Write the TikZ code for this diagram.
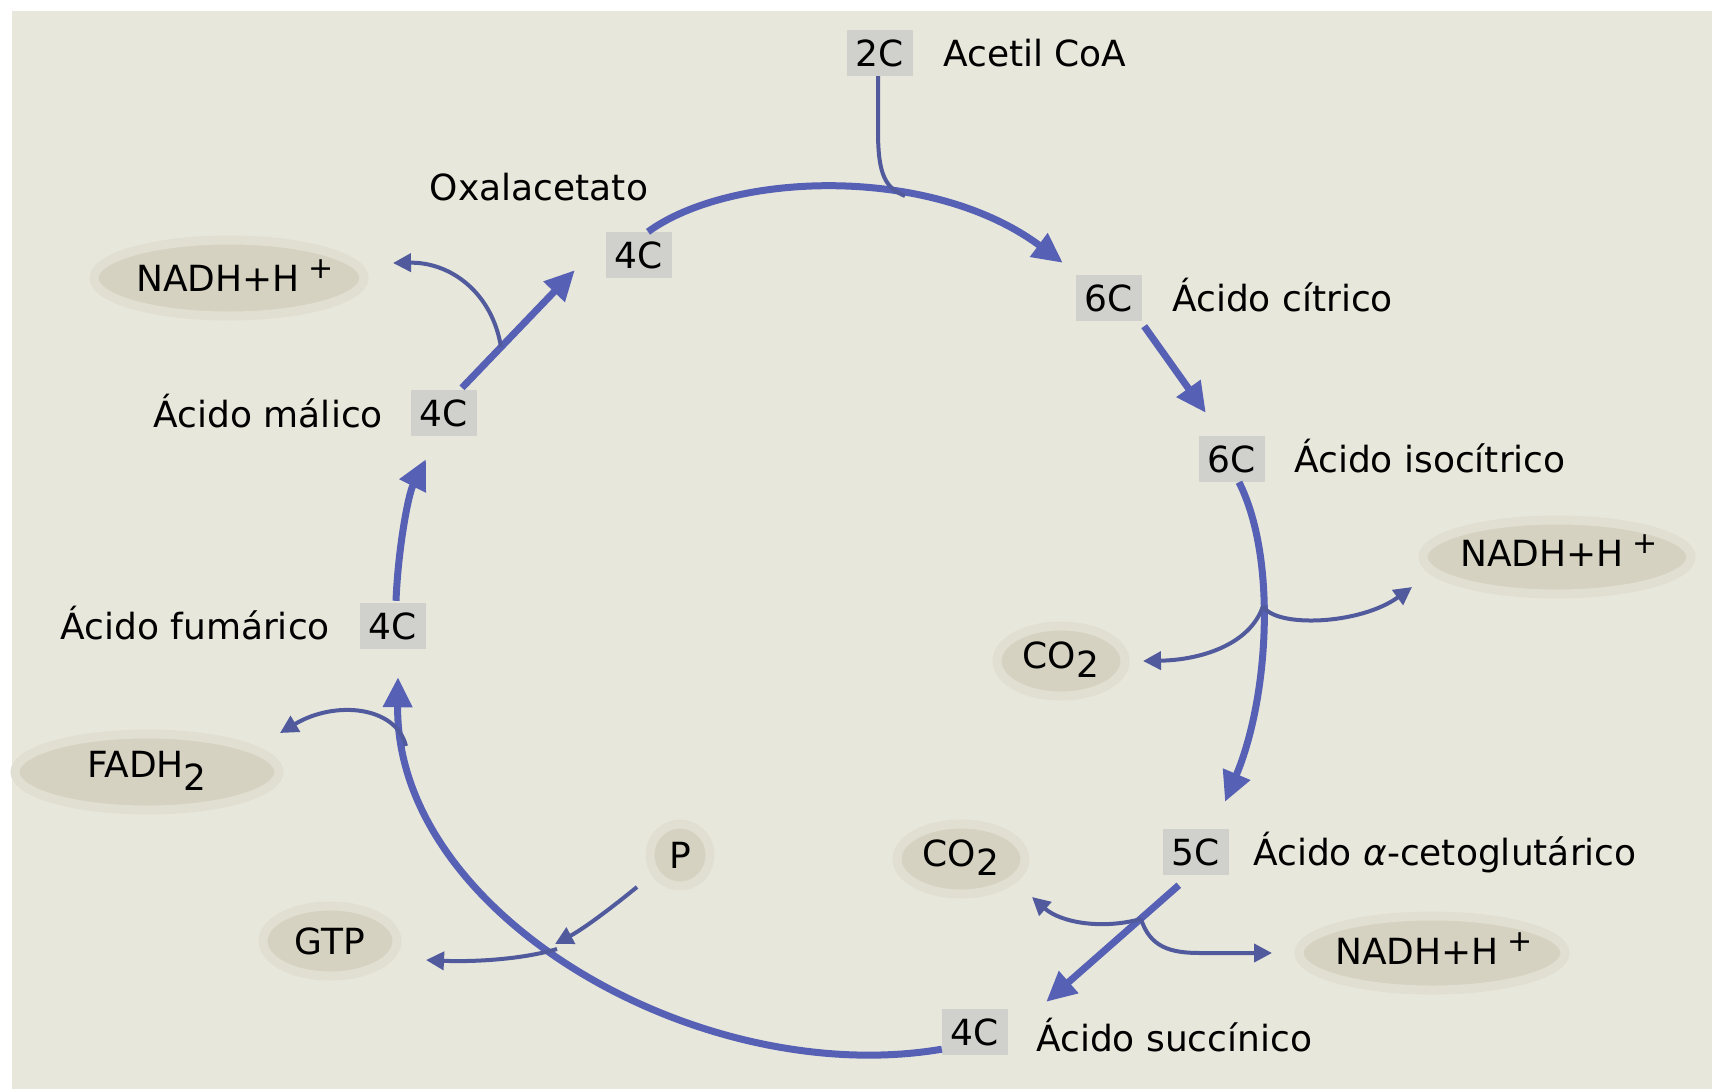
\documentclass[tikz,border=0pt]{standalone}
\usepackage{fontspec}
\setmainfont{DejaVu Sans}
\usetikzlibrary{arrows.meta,shapes.geometric,calc}

\definecolor{bgc}{RGB}{232,231,219}
\definecolor{cyc}{RGB}{86,96,180}
\definecolor{cycthin}{RGB}{80,90,156}
\definecolor{boxc}{RGB}{208,208,205}
\definecolor{ellc}{RGB}{214,210,193}
\newcommand\lblfont{\fontsize{36}{40}\selectfont}
\newcommand\plussup{\hspace{9pt}\raisebox{13pt}{\fontsize{30}{30}\selectfont +}}
\newcommand\subtwo[1]{\raisebox{#1}{2}}

\begin{document}
\begin{tikzpicture}[x=1pt,y=-1pt,
  lbl/.style={font=\lblfont, inner sep=0pt, text height=27pt, text depth=0pt},
  cbox/.style={lbl, fill=boxc, minimum width=66pt, minimum height=46pt},
  mol/.style={ellipse, fill=ellc, draw=ellc!40!bgc, line width=9pt, inner sep=0pt, outer sep=0pt},
  cycarrow/.style={draw=cyc, line width=7pt, -{Triangle[length=30pt,width=28pt]}},
  side/.style={draw=cycthin, line width=4pt, -{Triangle[length=18pt,width=18pt]}},
  sideline/.style={draw=cycthin, line width=4pt}]

% canvas
\useasboundingbox (0,0) rectangle (1712,1089);
\fill[white] (0,0) rectangle (1712,1089);
\fill[bgc] (12,11) rectangle (1712,1089);

% carbon-count boxes and compound names
\node[cbox] (c2) at (880,53) {2C};
\node[lbl, anchor=west] (tacet) at (943,53) {Acetil CoA};
\node[cbox] (ox) at (639,255) {4C};
\node[lbl] (tox) at (539,187) {Oxalacetato};
\node[cbox] (ci) at (1109,298) {6C};
\node[lbl, anchor=west] (tci) at (1172,298) {Ácido cítrico};
\node[cbox] (is) at (1232,459) {6C};
\node[lbl, anchor=west] (tis) at (1294,459) {Ácido isocítrico};
\node[cbox] (kg) at (1196,852) {5C};
\node[lbl, anchor=west] (tkg) at (1253,852) {Ácido \textit{α}-cetoglutárico};
\node[cbox] (su) at (975,1032) {4C};
\node[lbl, anchor=west] (tsu) at (1036,1038) {Ácido succínico};
\node[cbox] (fu) at (393,626) {4C};
\node[lbl, anchor=east] (tfu) at (330,626) {Ácido fumárico};
\node[cbox] (ma) at (444,413) {4C};
\node[lbl, anchor=east] (tma) at (383,414) {Ácido málico};

% by-products
\node[mol, minimum width=270pt, minimum height=76pt] (e1) at (229,278) {};
\node[lbl] at ($(e1)+(6,0)$) {NADH+H\plussup};
\node[mol, minimum width=268pt, minimum height=74pt] (e2) at (1557,557) {};
\node[lbl] at ($(e2)+(2,-4)$) {NADH+H\plussup};
\node[mol, minimum width=128pt, minimum height=70pt] (e3) at (1061,661) {};
\node[lbl] at ($(e3)+(0,-6)$) {CO\subtwo{-9pt}};
\node[mol, minimum width=128pt, minimum height=70pt] (e4) at (961,859) {};
\node[lbl] at ($(e4)+(0,-6)$) {CO\subtwo{-9pt}};
\node[mol, minimum width=266pt, minimum height=74pt] (e5) at (1432,953) {};
\node[lbl] at ($(e5)+(2,-2)$) {NADH+H\plussup};
\node[mol, minimum width=264pt, minimum height=76pt] (e6) at (147,772) {};
\node[lbl] at ($(e6)+(0,-8)$) {FADH\subtwo{-13pt}};
\node[mol, minimum width=134pt, minimum height=70pt] (e7) at (330,941) {};
\node[lbl] at (e7) {GTP};
\node[mol, minimum width=60pt, minimum height=62pt] (e8) at (680,855) {};
\node[lbl] at (e8) {P};

% main cycle
\draw[cycarrow] ($(ox.north)+(9,0)$) .. controls (730,172) and (930,164) .. ($(ci.north west)+(-13,-12)$);
\draw[cycarrow] ($(ci.south east)+(2,5)$) -- ($(is.north west)+(7,-23)$);
\draw[cycarrow] ($(is.south)+(7,0)$) .. controls (1278,560) and (1268,700) .. ($(kg.north)+(29,-27)$);
\draw[cycarrow] ($(kg.south west)+(16,10)$) -- ($(su.north east)+(38,-7)$);
\draw[cycarrow] ($(su.south west)+(0,-6)$) .. controls (700,1090) and (395,915) .. ($(fu.south)+(5,28)$);
\draw[cycarrow] ($(fu.north)+(3,-2)$) .. controls (398,550) and (408,495) .. ($(ma.south)+(-18,23)$);
\draw[cycarrow] ($(ma.north)+(18,-2)$) -- ($(ox.south west)+(-31,-8)$);

% junctions on the cycle
\coordinate (jA) at (905,196);
\coordinate (jM) at (501,347);
\coordinate (jI) at (1263,606);
\coordinate (jK) at (1141,919);
\coordinate (jF) at (406,746);
\coordinate (jG) at (547,946);

% acetyl-CoA entry
\draw[sideline] ($(c2.south)+(-2,0)$) -- ($(c2.south)+(-2,55)$) .. controls ($(c2.south)+(-2,100)$) and (886,188) .. (jA);

% side products
\draw[side] (jM) .. controls (492,292) and (450,262) .. ($(e1)+(164,-15)$);
\draw[side] (jI) .. controls (1250,645) and (1200,660) .. ($(e3)+(82,0)$);
\draw[side] (jI) .. controls (1275,628) and (1360,625) .. ($(e2)+(-145,30)$);
\draw[side] (jK) .. controls (1100,930) and (1060,922) .. ($(e4)+(71,38)$);
\draw[side] (jK) .. controls (1150,947) and (1170,953) .. (1200,953) -- ($(e5)+(-160,0)$);
\draw[side] (jF) .. controls (396,706) and (335,700) .. ($(e6)+(133,-39)$);
\draw[side] ($(e8)+(-43,32)$) .. controls (615,905) and (585,928) .. ($(jG)+(8,-2)$);
\draw[side] ($(jG)+(10,3)$) .. controls (520,960) and (470,962) .. ($(e7)+(96,19)$);

\end{tikzpicture}
\end{document}
